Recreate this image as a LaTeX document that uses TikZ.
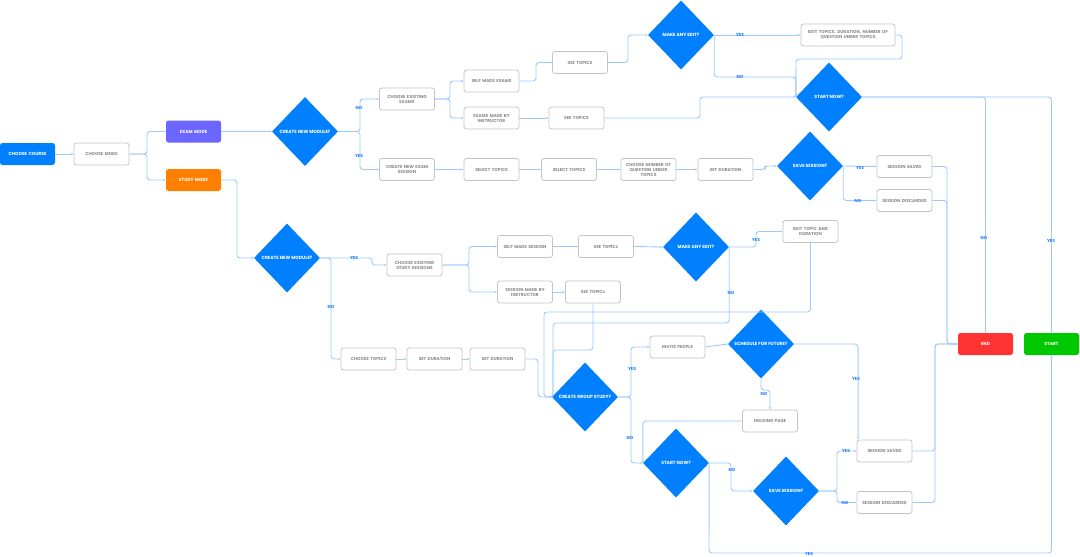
\documentclass[tikz,border=0pt]{standalone}
\usepackage{fontspec}
\setmainfont{Poppins}
\usetikzlibrary{shapes.geometric,arrows.meta}
\definecolor{dblue}{HTML}{0080FF}
\definecolor{purp}{HTML}{6B66FF}
\definecolor{orng}{HTML}{FF8000}
\definecolor{endred}{HTML}{FF3333}
\definecolor{stgreen}{HTML}{00C800}
\definecolor{linec}{HTML}{9CCBFF}
\definecolor{boxb}{HTML}{C4C4C4}
\definecolor{boxt}{HTML}{8C8C8C}
\definecolor{lblc}{HTML}{1F7FFF}
\tikzset{
  box/.style={draw=boxb, line width=0.8pt, rounded corners=2.5pt, fill=white,
    minimum width=55pt, minimum height=22pt, text width=53pt, align=center,
    inner sep=0pt, text=boxt, font=\fontsize{4.3}{5}\selectfont\bfseries},
  cbox/.style={rounded corners=2.5pt, minimum width=55pt, minimum height=22pt,
    text width=53pt, align=center, inner sep=0pt, text=white,
    font=\fontsize{4.4}{5.1}\selectfont\bfseries},
  dia/.style={diamond, fill=dblue, minimum width=66pt, minimum height=69pt,
    inner sep=0pt},
  dtext/.style={text=white, font=\fontsize{4.5}{5.2}\selectfont\bfseries, inner sep=0pt},
  conn/.style={draw=linec, line width=0.9pt, rounded corners=3pt,
    -{Latex[length=2.3pt,width=2.3pt]}},
  lbl/.style={text=lblc, font=\fontsize{4.3}{5}\selectfont\bfseries, inner sep=0pt}
}
\begin{document}
\begin{tikzpicture}[x=1pt,y=-1pt]
\useasboundingbox[fill=white] (0,0) rectangle (1080,557);

% ---------- nodes ----------
\node[cbox, fill=dblue] (cc) at (27.5,154) {CHOOSE COURSE};
\node[box] (cm) at (101.5,154) {CHOOSE MODE};
\node[cbox, fill=purp] (em) at (193.5,131.5) {EXAM MODE};
\node[cbox, fill=orng] (sm) at (193.5,180) {STUDY MODE};

\node[dia] (d1) at (305,131.5) {};
\node[dtext] (d1t) at (d1) {CREATE NEW MODULE?};
\node[box] (cee) at (407,99) {CHOOSE EXISTING\\EXAMS};
\node[box] (cnes) at (407,169.5) {CREATE NEW EXAM\\SESSION};
\node[box] (sme) at (491.5,81) {SELF MADE EXAMS};
\node[box] (emi) at (491.5,118) {EXAMS MADE BY\\INSTRUCTOR};
\node[box] (st1) at (580,62.5) {SEE TOPICS};
\node[box] (st2) at (576.5,118) {SEE TOPICS};
\node[dia] (d2) at (681,35) {};
\node[dtext] (d2t) at (d2) {MAKE ANY EDIT?};
\node[box, minimum width=94pt, text width=92pt] (ed1) at (848,35) {EDIT TOPICS, DURATION, NUMBER OF\\QUESTION UNDER TOPICS};
\node[dia] (d3) at (829,97) {};
\node[dtext] (d3t) at (d3) {START NOW?};
\node[box] (sel1) at (491.5,169.5) {SELECT TOPICS};
\node[box] (sel2) at (569,169.5) {SELECT TOPICS};
\node[box] (cnq) at (648.5,169.5) {CHOOSE NUMBER OF\\QUESTION UNDER\\TOPICS};
\node[box] (sd0) at (725.5,169.5) {SET DURATION};
\node[dia] (d4) at (810,166) {};
\node[dtext] (d4t) at (d4) {SAVE SESSION?};
\node[box] (ss1) at (904.5,166.5) {SESSION SAVED};
\node[box] (sdc1) at (904.5,200.5) {SESSION DISCARDED};
\node[box] (etd) at (810.5,231.5) {EDIT TOPIC AND\\DURATION};

\node[dia] (d5) at (287,258) {};
\node[dtext] (d5t) at (d5) {CREATE NEW MODULE?};
\node[box] (cess) at (414.5,265) {CHOOSE EXISTING\\STUDY SESSIONS};
\node[box] (sms) at (525,246.5) {SELF MADE SESSION};
\node[box] (smi) at (525,292) {SESSION MADE BY\\INSTRUCTOR};
\node[box] (st3) at (606,246.5) {SEE TOPICs};
\node[box] (st4) at (593,292) {SEE TOPICs};
\node[dia] (d6) at (696,247) {};
\node[dtext] (d6t) at (d6) {MAKE ANY EDIT?};
\node[box] (ct) at (368.5,359) {CHOOSE TOPICS};
\node[box] (sd1) at (434.5,359) {SET DURATION};
\node[box] (sd2) at (497.5,359) {SET DURATION};
\node[dia] (d7) at (585,397) {};
\node[dtext] (d7t) at (d7) {CREATE GROUP STUDY?};
\node[box] (ip) at (677.5,347) {INVITE PEOPLE};
\node[dia] (d8) at (761,344) {};
\node[dtext] (d8t) at (d8) {SCHEDULE FOR FUTURE?};
\node[box] (hp) at (770,421) {HOLDING PAGE};
\node[dia] (d9) at (676,463) {};
\node[dtext] (d9t) at (d9) {START NOW?};
\node[dia] (d10) at (786,491) {};
\node[dtext] (d10t) at (d10) {SAVE SESSION?};
\node[box] (ss2) at (884.5,451) {SESSION SAVED};
\node[box] (sdc2) at (884.5,502.5) {SESSION DISCARDED};
\node[cbox, fill=endred] (endn) at (985.5,344) {END};
\node[cbox, fill=stgreen] (startn) at (1051.5,344) {START};

% ---------- connectors ----------
\draw[conn] (cc) -- (cm);
\draw[conn] (cm.east) -- (147,154) |- (em.west);
\draw[conn] (cm.east) -- (147,154) |- (sm.west);
\draw[conn] (em.east) -- (d1.west);
\draw[conn] (sm.east) -- (237,180) |- (d5.west);
\draw[conn] (d1.east) -- (360,131.5) |- (cee.west);
\draw[conn] (d1.east) -- (360,131.5) |- (cnes.west);
\draw[conn] (cee.east) -- (450,99) |- (sme.west);
\draw[conn] (cee.east) -- (450,99) |- (emi.west);
\draw[conn] (sme.east) -- (536,81) |- (st1.west);
\draw[conn] (emi.east) -- (st2.west);
\draw[conn] (st1.east) -- (628,62.5) |- (d2.west);
\draw[conn] (d2.east) -- (ed1.west);
\draw[conn] (d2.east) |- (796,77) -- (d3.west);
\draw[conn] (ed1.east) -- (902,35) -- (902,59) -- (796,59) -- (d3.west);
\draw[conn] (st2.east) -- (700,118) |- (d3.west);
\draw[conn] (d3.east) -| (endn.north);
\draw[conn] (d3.east) -| (startn.north);
\draw[conn] (cnes) -- (sel1);
\draw[conn] (sel1) -- (sel2);
\draw[conn] (sel2) -- (cnq);
\draw[conn] (cnq) -- (sd0);
\draw[conn] (sd0.east) -- (765,169.5) |- (d4.west);
\draw[conn] (d4.east) -- (ss1.west);
\draw[conn] (d4.east) |- (sdc1.west);
\draw[conn] (ss1.east) -- (947,166.5) |- (endn.west);
\draw[conn] (sdc1.east) -- (947,200.5) |- (endn.west);

\draw[conn] (d5.east) -- (372,258) |- (cess.west);
\draw[conn] (d5.east) -- (331,258) |- (ct.west);
\draw[conn] (cess.east) -- (469,265) |- (sms.west);
\draw[conn] (cess.east) -- (469,265) |- (smi.west);
\draw[conn] (sms) -- (st3);
\draw[conn] (smi) -- (st4);
\draw[conn] (st3.east) -- (d6.west);
\draw[conn] (d6.east) -- (756,247) |- (etd.west);
\draw[conn] (d6.east) |- (553,323) -- (553,397) -- (d7.west);
\draw[conn] (etd.south) |- (544,312) |- (d7.west);
\draw[conn] (st4.south) |- (553,350) -- (553,397) -- (d7.west);
\draw[conn] (ct) -- (sd1);
\draw[conn] (sd1) -- (sd2);
\draw[conn] (sd2.east) -- (538,359) |- (d7.west);
\draw[conn] (d7.east) -- (631,397) |- (ip.west);
\draw[conn] (d7.east) -- (631,397) |- (d9.west);
\draw[conn] (ip.east) -- (d8.west);
\draw[conn] (d8.east) -| ([xshift=1.5pt]ss2.north west);
\draw[conn] (d8.south) -- (761,390) -| (hp.north);
\draw[conn] (hp.west) -| (d9.west);
\draw[conn] (d9.east) -- (731,463) |- (d10.west);
\draw[conn] (d9.east) -- (709,553) -| (startn.south);
\draw[conn] (d10.east) -- (837,491) |- (ss2.west);
\draw[conn] (d10.east) -- (837,491) |- (sdc2.west);
\draw[conn] (ss2.east) -- (935,451) |- (endn.west);
\draw[conn] (sdc2.east) -- (935,502.5) |- (endn.west);

% ---------- labels ----------
\node[lbl] (l1) at (359,108) {NO};
\node[lbl] (l2) at (359,156) {YES};
\node[lbl] (l3) at (740,35) {YES};
\node[lbl] (l4) at (740,77) {NO};
\node[lbl] (l5) at (984,238) {NO};
\node[lbl] (l6) at (1051,241) {YES};
\node[lbl] (l7) at (860,168) {YES};
\node[lbl] (l8) at (858,201) {NO};
\node[lbl] (l9) at (354,258) {YES};
\node[lbl] (l10) at (331,307) {NO};
\node[lbl] (l11) at (756,240) {YES};
\node[lbl] (l12) at (731,293) {NO};
\node[lbl] (l13) at (632,369) {YES};
\node[lbl] (l14) at (630,438) {NO};
\node[lbl] (l15) at (856,379) {YES};
\node[lbl] (l16) at (764,394) {NO};
\node[lbl] (l17) at (732,470) {NO};
\node[lbl] (l18) at (809,554) {YES};
\node[lbl] (l19) at (846,451) {YES};
\node[lbl] (l20) at (845,503) {NO};
\end{tikzpicture}
\end{document}
